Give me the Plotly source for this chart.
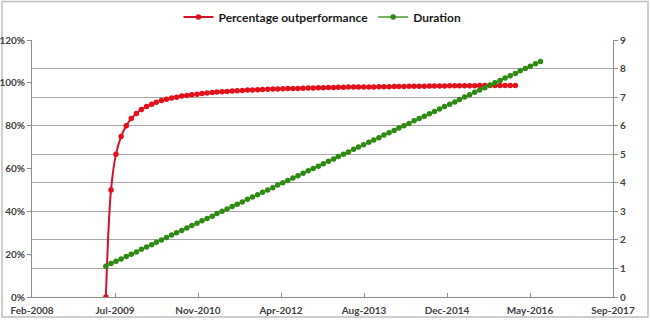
import pandas as pd
import plotly.graph_objects as go

# Share of periods with outperformance (%), monthly from May-2009
outperformance_pct = [
    0, 50, 66.7, 75, 80, 83.3, 85.7, 87.5, 88.9, 90,
    90.9, 91.7, 92.3, 92.9, 93.3, 93.8, 94.1, 94.4, 94.7, 95,
    95.2, 95.5, 95.7, 95.8, 96, 96.2, 96.3, 96.4, 96.6, 96.7,
    96.8, 96.9, 97, 97.1, 97.1, 97.2, 97.3, 97.4, 97.4, 97.5,
    97.6, 97.6, 97.7, 97.7, 97.8, 97.8, 97.9, 97.9, 98, 98,
    98, 98.1, 98.1, 98.1, 98.2, 98.2, 98.2, 98.3, 98.3, 98.3,
    98.4, 98.4, 98.4, 98.4, 98.5, 98.5, 98.5, 98.5, 98.6, 98.6,
    98.6, 98.6, 98.6, 98.6, 98.7, 98.7, 98.7, 98.7, 98.7, 98.8,
    98.8, 98.8,
]

# Holding duration in years, monthly from May-2009
duration_years = [
    1.08, 1.17, 1.25, 1.33, 1.42, 1.50, 1.58, 1.67, 1.75, 1.83, 1.92,
    2.00, 2.08, 2.17, 2.25, 2.33, 2.42, 2.50, 2.58, 2.67, 2.75, 2.83, 2.92,
    3.00, 3.08, 3.17, 3.25, 3.33, 3.42, 3.50, 3.58, 3.67, 3.75, 3.83, 3.92,
    4.00, 4.08, 4.17, 4.25, 4.33, 4.42, 4.50, 4.58, 4.67, 4.75, 4.83, 4.92,
    5.00, 5.08, 5.17, 5.25, 5.33, 5.42, 5.50, 5.58, 5.67, 5.75, 5.83, 5.92,
    6.00, 6.08, 6.17, 6.25, 6.33, 6.42, 6.50, 6.58, 6.67, 6.75, 6.83, 6.92,
    7.00, 7.08, 7.17, 7.25, 7.33, 7.42, 7.50, 7.58, 7.67, 7.75, 7.83, 7.92,
    8.00, 8.08, 8.17, 8.25,
]

start_date = "2009-05-15"
axis_start = pd.Timestamp("2008-02-25")
tick_step_days = 500
x_tick_labels = ["Feb-2008", "Jul-2009", "Nov-2010", "Apr-2012",
                 "Aug-2013", "Dec-2014", "May-2016", "Sep-2017"]

monthly = pd.DateOffset(months=1)
dates_pct = [pd.Timestamp(start_date) + i * monthly for i in range(len(outperformance_pct))]
dates_dur = [pd.Timestamp(start_date) + i * monthly for i in range(len(duration_years))]
tick_vals = [axis_start + pd.Timedelta(days=tick_step_days * k) for k in range(len(x_tick_labels))]

RED = "#e3101a"
GREEN = "#2e8b12"
AXIS = "#8c8c8c"
GRID = "#a6a6a6"
TXT = "#404040"
FONT = "Lato"

fig = go.Figure()
fig.add_trace(go.Scatter(
    x=dates_pct, y=[v / 100 for v in outperformance_pct],
    name="Percentage outperformance", mode="lines+markers",
    line=dict(color="#d0142a", width=2, shape="spline", smoothing=1),
    marker=dict(color=RED, size=5.5),
    yaxis="y",
))
fig.add_trace(go.Scatter(
    x=dates_dur, y=duration_years,
    name="Duration", mode="lines+markers",
    line=dict(color="#4a9a2a", width=1.5),
    marker=dict(color=GREEN, size=5.5),
    yaxis="y2",
))

W, H = 650, 333
L, R, T, B = 32, 37, 40, 36
pw, ph = W - L - R, H - T - B

fig.update_layout(
    width=W, height=H,
    margin=dict(l=L, r=R, t=T, b=B, autoexpand=False),
    paper_bgcolor="white", plot_bgcolor="white",
    font=dict(family=FONT, color=TXT, size=10),
    showlegend=True,
    legend=dict(
        orientation="h", x=0.5, xanchor="center", y=1.0 + 23 / ph, yanchor="middle",
        font=dict(family=FONT, size=12, color="#1a1a1a", weight="bold"),
        itemwidth=30, tracegroupgap=0, bgcolor="rgba(0,0,0,0)",
    ),
    xaxis=dict(
        type="date", automargin=False,
        range=[axis_start, tick_vals[-1]],
        tickvals=tick_vals, ticktext=x_tick_labels,
        showgrid=False, zeroline=False,
        showline=True, linecolor=AXIS, linewidth=1,
        ticks="inside", ticklen=4, tickcolor=AXIS,
        ticklabelstandoff=4,
        tickfont=dict(family=FONT, size=10, color=TXT, weight="bold"),
    ),
    yaxis=dict(
        range=[0, 1.2], tickvals=[0, 0.2, 0.4, 0.6, 0.8, 1.0, 1.2],
        tickformat=".0%", automargin=False,
        showgrid=False, zeroline=False,
        showline=True, linecolor=AXIS, linewidth=1,
        ticks="outside", ticklen=4, tickcolor=AXIS,
        tickfont=dict(family=FONT, size=10, color=TXT, weight="bold"),
    ),
    yaxis2=dict(
        range=[0, 9], tickvals=list(range(10)),
        overlaying="y", side="right", automargin=False,
        showgrid=True, gridcolor=GRID, gridwidth=1, zeroline=False,
        showline=True, linecolor=AXIS, linewidth=1,
        ticks="outside", ticklen=4, tickcolor=AXIS,
        tickfont=dict(family=FONT, size=10, color=TXT, weight="bold"),
    ),
)

# Chart-area frame around plot, axes and legend
fig.add_shape(
    type="rect", xref="paper", yref="paper", layer="below",
    x0=(2 - L) / pw, x1=(648 - L) / pw,
    y0=(H - B - 317) / ph, y1=(H - B - 1.5) / ph,
    line=dict(color="#bfbfbf", width=1.5), fillcolor="rgba(0,0,0,0)",
)

fig.write_html("out.html")
